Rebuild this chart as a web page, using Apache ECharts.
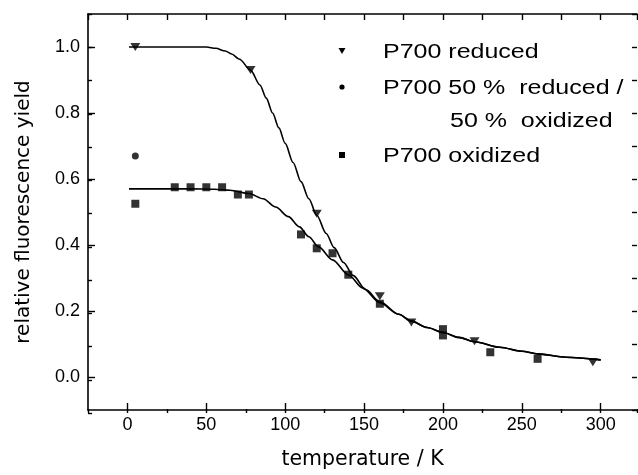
<!DOCTYPE html>
<html><head><meta charset="utf-8">
<script src="https://cdn.jsdelivr.net/npm/echarts@6/dist/echarts.min.js"></script>
<style>html,body{margin:0;padding:0;background:#fff}#c{width:638px;height:475px}</style>
</head><body><div id="c"></div>
<script>
// ---- data ----
const reducedPts = [[5,1.0],[78,0.93],[120,0.495],[160,0.245],[180,0.165],[220,0.108],[295,0.045]];
const halfPts = [[5,0.67]];
const oxidizedPts = [[5,0.525],[30,0.575],[40,0.575],[50,0.575],[60,0.575],[70,0.553],[77,0.553],[110,0.432],[120,0.39],[130,0.375],[140,0.31],[160,0.222],[200,0.145],[200,0.126],[230,0.075],[260,0.055]];

const fitReducedX = [1,20,40,50,56,62,66,71,78,84,88,92,96,100,105,110,115,120,126,131,137,143,151,160,172,180,190,200,210,220,236,250,260,278,300];
const fitReducedY = [1.0,1.0,1.0,1.0,0.996,0.988,0.979,0.963,0.93,0.885,0.845,0.80,0.755,0.708,0.65,0.592,0.54,0.49,0.435,0.392,0.347,0.308,0.265,0.228,0.19,0.17,0.15,0.135,0.12,0.107,0.09,0.078,0.07,0.06,0.052];
const fitOxX = [1,20,40,55,65,77,86,94,102,109,115,121,130,140,149,160,172,180,190,200,210,220,236,250,260,278,300];
const fitOxY = [0.57,0.57,0.57,0.569,0.566,0.556,0.54,0.515,0.486,0.455,0.425,0.395,0.355,0.31,0.27,0.225,0.19,0.168,0.15,0.135,0.12,0.107,0.09,0.078,0.07,0.06,0.052];

const xMajorTicks = [0,50,100,150,200,250,300];
const yMajorTicks = [0,0.2,0.4,0.6,0.8,1.0];
const X_MINOR_STEP = 25, Y_MINOR_STEP = 0.1;

const legendLabels = ['P700 reduced','P700 50 %  reduced /','50 %  oxidized','P700 oxidized'];
const seriesNames = ['P700 reduced','P700 50 % reduced / 50 % oxidized','P700 oxidized'];

// ---- chart ----
const X_MIN = -25, X_MAX = 323, Y_MIN = -0.1, Y_MAX = 1.1;
const F = 'Liberation Sans, Arial, sans-serif';
const chart = echarts.init(document.getElementById('c'), null, {renderer:'canvas'});
const zip = (xs, ys) => xs.map((x,i)=>[x, ys[i]]);
const tickAxis = (grid, pos, min, max, step, len, lineShow) => ({
  type:'value', gridIndex:grid, min:min, max:max, interval:step, position:pos,
  axisLine:{show:!!lineShow, onZero:false, lineStyle:{color:'#000', width:1.6}},
  splitLine:{show:false}, axisLabel:{show:false},
  axisTick:{show:true, inside:true, length:len, lineStyle:{color:'#000', width:1.4}}
});
const gridRect = {left:88, top:14, right:1, bottom:62};

const option = {
  backgroundColor:'#fff',
  animation:false,
  grid:[Object.assign({}, gridRect), Object.assign({}, gridRect)],
  xAxis:[
    {type:'value', gridIndex:0, min:X_MIN, max:X_MAX, position:'bottom',
     name:'temperature / K', nameLocation:'middle', nameGap:39,
     nameTextStyle:{fontFamily:'DejaVu Sans, sans-serif', fontSize:20.5, color:'#000'},
     axisLine:{show:true, onZero:false, lineStyle:{color:'#000', width:1.6}},
     axisTick:{show:true, inside:true, length:7, customValues:xMajorTicks, lineStyle:{color:'#000', width:1.4}},
     axisLabel:{customValues:xMajorTicks, color:'#000', fontFamily:F, fontSize:18, margin:6},
     splitLine:{show:false}},
    tickAxis(0, 'top', X_MIN, X_MAX, X_MINOR_STEP, 6, true),
    tickAxis(1, 'bottom', X_MIN, X_MAX, X_MINOR_STEP, 4, false)
  ],
  yAxis:[
    {type:'value', gridIndex:0, min:Y_MIN, max:Y_MAX, position:'left',
     name:'relative fluorescence yield', nameLocation:'middle', nameGap:54, nameRotate:90,
     nameTextStyle:{fontFamily:'DejaVu Sans, sans-serif', fontSize:20, color:'#000'},
     axisLine:{show:true, onZero:false, lineStyle:{color:'#000', width:1.6}},
     axisTick:{show:true, inside:true, length:7, customValues:yMajorTicks, lineStyle:{color:'#000', width:1.4}},
     axisLabel:{customValues:yMajorTicks, color:'#000', fontFamily:F, fontSize:18, margin:8,
       formatter:v=>v.toFixed(1)},
     splitLine:{show:false}},
    tickAxis(0, 'right', Y_MIN, Y_MAX, Y_MINOR_STEP, 5, false),
    tickAxis(1, 'left', Y_MIN, Y_MAX, Y_MINOR_STEP, 4, false)
  ],
  series:[
    {type:'line', name:'fit reduced', data:zip(fitReducedX, fitReducedY), smooth:0.3, smoothMonotone:'x', showSymbol:false,
     lineStyle:{color:'#000', width:1.6}, z:2, silent:true},
    {type:'line', name:'fit oxidized', data:zip(fitOxX, fitOxY), smooth:0.3, smoothMonotone:'x', showSymbol:false,
     lineStyle:{color:'#000', width:1.6}, z:2, silent:true},
    {type:'scatter', name:seriesNames[0], data:reducedPts, symbol:'triangle', symbolRotate:180, symbolSize:[10,8],
     itemStyle:{color:'#000'}, z:3},
    {type:'scatter', name:seriesNames[1], data:halfPts, symbol:'circle', symbolSize:7,
     itemStyle:{color:'#000'}, z:3},
    {type:'scatter', name:seriesNames[2], data:oxidizedPts, symbol:'rect', symbolSize:8,
     itemStyle:{color:'#000'}, z:3}
  ],
  graphic:[
    {type:'polygon', x:342, y:51, shape:{points:[[-3.5,-3],[3.5,-3],[0,3]]}, style:{fill:'#000'}},
    {type:'circle', x:342, y:87, shape:{r:2.6}, style:{fill:'#000'}},
    {type:'rect', x:339, y:152, shape:{width:6, height:6}, style:{fill:'#000'}},
    {type:'text', x:383, y:52, scaleX:1.25, style:{text:legendLabels[0], font:'20px '+F, fill:'#000', textVerticalAlign:'middle'}},
    {type:'text', x:383, y:88, scaleX:1.25, style:{text:legendLabels[1], font:'20px '+F, fill:'#000', textVerticalAlign:'middle'}},
    {type:'text', x:450, y:121, scaleX:1.25, style:{text:legendLabels[2], font:'20px '+F, fill:'#000', textVerticalAlign:'middle'}},
    {type:'text', x:383, y:156, scaleX:1.25, style:{text:legendLabels[3], font:'20px '+F, fill:'#000', textVerticalAlign:'middle'}}
  ]
};
chart.setOption(option);
</script></body></html>
